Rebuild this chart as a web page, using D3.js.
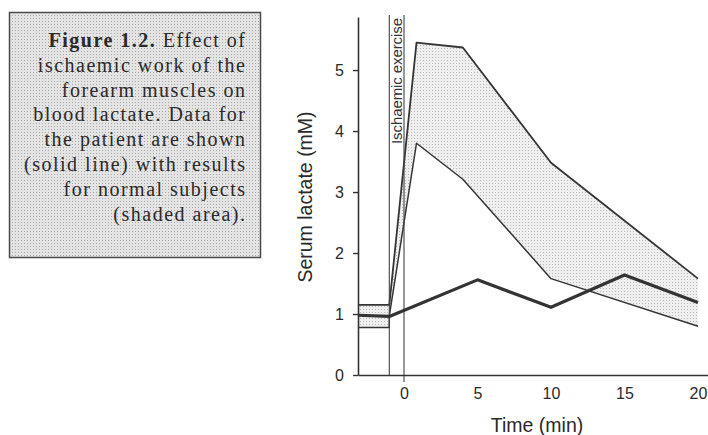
<!DOCTYPE html>
<html>
<head>
<meta charset="utf-8">
<script src="https://cdn.jsdelivr.net/npm/d3@7/dist/d3.min.js"></script>
<style>
    body { margin: 0; background: #fff; }
    svg { display: block; }
</style>
</head>
<body>
<svg id="chart"></svg>
<script>
/*--------------------------------------------------------------------------------
----- DATA
--------------------------------------------------------------------------------*/

// Caption text, one entry per printed line (first two words are bold)
const caption_bold = "Figure 1.2.";
const caption_lines = [
    " Effect of",
    "ischaemic work of the",
    "forearm muscles on",
    "blood lactate. Data for",
    "the patient are shown",
    "(solid line) with results",
    "for normal subjects",
    "(shaded area)."
];

// Axis ticks
const time_ticks = [0, 5, 10, 15, 20];
const lactate_ticks = [0, 1, 2, 3, 4, 5];

// Patient (solid line)
const patient_time = [-3.13, -1, 5, 10, 15, 20];
const patient_lactate = [0.98, 0.96, 1.56, 1.11, 1.64, 1.19];

// Normal subjects, upper and lower edges of the shaded range
const normal_upper_time = [-3.13, -1, 0.85, 4, 10, 20];
const normal_upper = [1.15, 1.15, 5.45, 5.37, 3.48, 1.58];
const normal_lower_time = [-3.13, -1, -1, 0.85, 4, 10, 20];
const normal_lower = [0.78, 0.78, 0.97, 3.80, 3.21, 1.58, 0.80];

// Exercise period (min)
const exercise_period = [-1, 0];

/*--------------------------------------------------------------------------------
----- LAYOUT
--------------------------------------------------------------------------------*/

const width = 708, height = 435;
const sans = "'Liberation Sans', Arial, sans-serif";
const serif = "'Liberation Serif', 'Times New Roman', serif";

const svg = d3.select("#chart")
    .attr("width", width)
    .attr("height", height);

// Stipple patterns for the caption box and the shaded area
const defs = svg.append("defs");
function add_stipple(id, bg, dot) {
    const p = defs.append("pattern")
        .attr("id", id)
        .attr("width", 3)
        .attr("height", 3)
        .attr("patternUnits", "userSpaceOnUse");
    p.append("rect").attr("width", 3).attr("height", 3).attr("fill", bg);
    p.append("rect").attr("width", 1).attr("height", 1).attr("fill", dot);
}
add_stipple("box-stipple", "#e4e4e4", "#a8a8a8");
add_stipple("band-stipple", "#efefef", "#b8b8b8");

/*--------------------------------------------------------------------------------
----- CAPTION BOX
--------------------------------------------------------------------------------*/

svg.append("rect")
    .attr("x", 9.5)
    .attr("y", 12.5)
    .attr("width", 251)
    .attr("height", 245)
    .attr("fill", "url(#box-stipple)")
    .attr("stroke", "#4a4a4a")
    .attr("stroke-width", 1.5);

const caption = svg.append("text")
    .attr("font-family", serif)
    .attr("font-size", 20)
    .attr("letter-spacing", 1.5)
    .attr("fill", "#2a2a2a")
    .attr("text-anchor", "end");

caption_lines.forEach((line, i) => {
    const t = caption.append("tspan")
        .attr("x", 246.5)
        .attr("y", 47 + i * 24.8);
    if (i === 0) {
        t.append("tspan").attr("font-weight", "bold").text(caption_bold);
        t.append("tspan").text(line);
    } else {
        t.text(line);
    }
});

/*--------------------------------------------------------------------------------
----- CHART
--------------------------------------------------------------------------------*/

const x_scale = d3.scaleLinear()
    .domain([-3.13, 20.68])
    .range([358, 708]);
const y_scale = d3.scaleLinear()
    .domain([0, 5.87])
    .range([375, 17]);

const line_gen = d3.line()
    .x(d => x_scale(d[0]))
    .y(d => y_scale(d[1]));

const upper_pts = normal_upper_time.map((t, i) => [t, normal_upper[i]]);
const lower_pts = normal_lower_time.map((t, i) => [t, normal_lower[i]]);
const patient_pts = patient_time.map((t, i) => [t, patient_lactate[i]]);

// Shaded range for normal subjects
svg.append("path")
    .attr("d", line_gen(upper_pts.concat(lower_pts.slice().reverse())) + "Z")
    .attr("fill", "url(#band-stipple)")
    .attr("stroke", "none");

// Edges of the shaded range
[[upper_pts, 1.8], [lower_pts, 1.5]].forEach(([pts, w]) => {
    svg.append("path")
        .attr("d", line_gen(pts))
        .attr("fill", "none")
        .attr("stroke", "#353535")
        .attr("stroke-width", w)
        .attr("stroke-linejoin", "round");
});

// Vertical lines marking the exercise period
exercise_period.forEach((t, i) => {
    svg.append("line")
        .attr("x1", x_scale(t))
        .attr("x2", x_scale(t))
        .attr("y1", 15)
        .attr("y2", i === 1 ? 382 : 375)
        .attr("stroke", "#444")
        .attr("stroke-width", 1.1);
});

svg.append("text")
    .attr("transform", `translate(${x_scale(d3.mean(exercise_period))},144) rotate(-90)`)
    .attr("dy", "0.36em")
    .attr("font-family", sans)
    .attr("font-size", 15)
    .attr("textLength", 126)
    .attr("lengthAdjust", "spacing")
    .attr("fill", "#333")
    .text("Ischaemic exercise");

// Axes
const y_axis = svg.append("g")
    .attr("transform", `translate(${x_scale.range()[0]},0)`)
    .call(d3.axisLeft(y_scale)
        .tickValues(lactate_ticks)
        .tickFormat(d3.format("d"))
        .tickSize(5)
        .tickSizeOuter(0)
        .tickPadding(9));

const x_axis = svg.append("g")
    .attr("transform", `translate(0,${y_scale(0)})`)
    .call(d3.axisBottom(x_scale)
        .tickValues(time_ticks)
        .tickFormat(d3.format("d"))
        .tickSize(0)
        .tickSizeOuter(0)
        .tickPadding(13));

[y_axis, x_axis].forEach(ax => {
    ax.select(".domain").attr("stroke", "#333").attr("stroke-width", 1.6);
    ax.selectAll(".tick line").attr("stroke", "#333").attr("stroke-width", 1.4);
    ax.selectAll(".tick text")
        .attr("font-family", sans)
        .attr("font-size", 16)
        .attr("fill", "#2a2a2a");
});

// Patient line
svg.append("path")
    .attr("d", line_gen(patient_pts))
    .attr("fill", "none")
    .attr("stroke", "#333")
    .attr("stroke-width", 3.2)
    .attr("stroke-linejoin", "round");

// Axis titles
svg.append("text")
    .attr("transform", "translate(305,197) rotate(-90)")
    .attr("text-anchor", "middle")
    .attr("dy", "0.35em")
    .attr("font-family", sans)
    .attr("font-size", 19.5)
    .attr("fill", "#2a2a2a")
    .text("Serum lactate (mM)");

svg.append("text")
    .attr("x", 537)
    .attr("y", 432)
    .attr("text-anchor", "middle")
    .attr("font-family", sans)
    .attr("font-size", 19.5)
    .attr("fill", "#2a2a2a")
    .text("Time (min)");
</script>
</body>
</html>
